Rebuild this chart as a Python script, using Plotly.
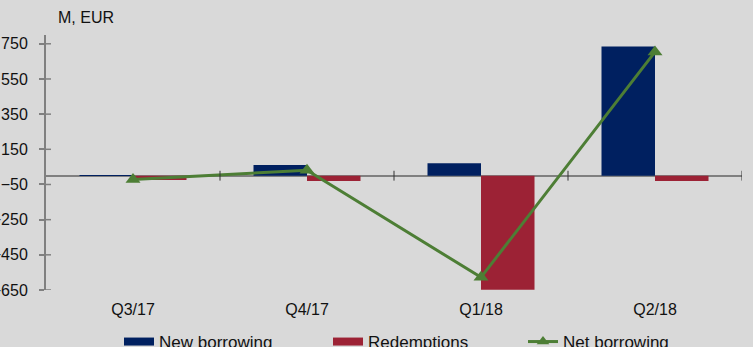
import plotly.graph_objects as go

categories = ["Q3/17", "Q4/17", "Q1/18", "Q2/18"]
new_borrowing = [3, 61, 71, 734]
redemptions = [-25, -30, -649, -30]
net_borrowing = [-22, 31, -578, 704]
y_ticks = [-650, -450, -250, -50, 150, 350, 550, 750]

NAVY = "#002060"
RED = "#9c2235"
GREEN = "#4d7e35"
GRAY = "#808080"
BG = "#d9d9d9"
FONT = "Liberation Sans"

W, H = 753, 347
L, R, T, B = 46, 11, 35, 57
plot_w = W - L - R
plot_h = H - T - B

fig = go.Figure()
fig.add_trace(go.Bar(x=categories, y=new_borrowing, name="New borrowing",
                     marker=dict(color=NAVY, line=dict(width=0)), showlegend=False))
fig.add_trace(go.Bar(x=categories, y=redemptions, name="Redemptions",
                     marker=dict(color=RED, line=dict(width=0)), showlegend=False))
fig.add_trace(go.Scatter(x=categories, y=net_borrowing, name="Net borrowing",
                         mode="lines+markers", line=dict(color=GREEN, width=3),
                         marker=dict(symbol="triangle-up", size=13, color=GREEN),
                         showlegend=False))
# legend entries
fig.add_trace(go.Scatter(x=[None], y=[None], mode="lines", name="New borrowing",
                         line=dict(color=NAVY, width=8), legend="legend"))
fig.add_trace(go.Scatter(x=[None], y=[None], mode="lines", name="Redemptions",
                         line=dict(color=RED, width=8), legend="legend2"))
fig.add_trace(go.Scatter(x=[None], y=[None], mode="lines+markers", name="Net borrowing",
                         line=dict(color=GREEN, width=3),
                         marker=dict(symbol="triangle-up", size=11, color=GREEN),
                         legend="legend3"))

shapes = []
# x-axis crossing ticks at category boundaries on the zero line
for i in range(1, len(categories) + 1):
    shapes.append(dict(type="line", xref="x", yref="y", x0=i - 0.5, x1=i - 0.5,
                       y0=-28, y1=28, line=dict(color="#333333", width=1)))
# inner half of y ticks
for v in y_ticks:
    shapes.append(dict(type="line", xref="paper", yref="y", x0=0, x1=5 / plot_w,
                       y0=v, y1=v, line=dict(color=GRAY, width=1.5)))

legend_y = (T + plot_h - 342) / plot_h


def leg(px):
    return dict(orientation="h", x=(px - L) / plot_w, xanchor="left", y=legend_y,
                yanchor="middle", font=dict(size=17), bgcolor="rgba(0,0,0,0)",
                itemwidth=30)


fig.update_layout(
    width=W, height=H,
    margin=dict(l=L, r=R, t=T, b=B, autoexpand=False),
    paper_bgcolor=BG, plot_bgcolor=BG,
    font=dict(family=FONT, size=16, color="#111111"),
    barmode="group", bargap=0.385, bargroupgap=0,
    shapes=shapes,
    showlegend=True,
    legend=leg(119), legend2=leg(328), legend3=leg(523),
    annotations=[dict(text="M, EUR", xref="paper", yref="paper", x=(56 - L) / plot_w,
                      y=1, xanchor="left", yanchor="bottom", yshift=7,
                      showarrow=False, font=dict(size=16))],
)
fig.update_xaxes(range=[-0.5, len(categories) - 0.5], showline=False, ticks="",
                 showgrid=False, zeroline=False, ticklabelstandoff=8,
                 tickfont=dict(size=16), automargin=False)
fig.update_yaxes(range=[-650, 800], tickvals=y_ticks, showgrid=False,
                 zeroline=True, zerolinecolor=GRAY, zerolinewidth=2,
                 showline=True, linecolor=GRAY, linewidth=2,
                 ticks="outside", ticklen=5, tickcolor=GRAY, tickwidth=1.5,
                 ticklabelstandoff=8, tickfont=dict(size=16), automargin=False)

fig.write_html("out.html")
